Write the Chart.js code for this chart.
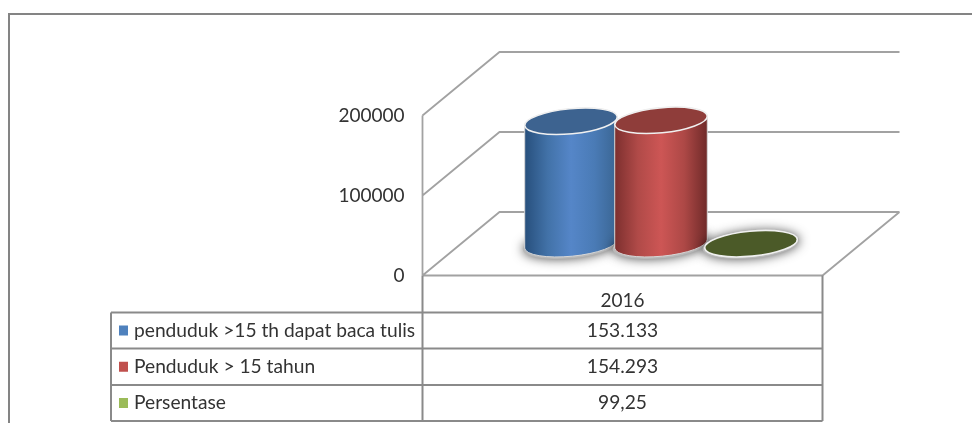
<!DOCTYPE html>
<html>
<head>
<meta charset="utf-8">
<style>
  html, body { margin: 0; padding: 0; background: #fff; }
  #wrap { width: 972px; height: 423px; }
</style>
</head>
<body>
<div id="wrap"><canvas id="myChart" width="972" height="423"></canvas></div>
<script src="https://cdn.jsdelivr.net/npm/chart.js@4/dist/chart.umd.min.js"></script>
<script>
const categories = ["2016"];
const seriesNames = ["penduduk >15 th dapat baca tulis", "Penduduk > 15 tahun", "Persentase"];
const literate = [153133];
const population = [154293];
const percentage = [99.25];
const tableValues = ["153.133", "154.293", "99,25"];
const legendColors = ["#4f81bd", "#c0504d", "#9bbb59"];

const fontName = "Lato, sans-serif";
const textColor = "#333333";
const lineColor = "#a2a2a2";
const tableColor = "#8a8a8a";

// floor depth of the fake 3d box, bars stand half way in
const depthX = 77;
const depthY = -63.5;
const rowLines = [312.5, 348.5, 385, 421];
const tableLeft = 111;

// side gradient stops and top colour for each cylinder
const cylinders = [
  { side: ["#274f7c", "#4272a8", "#5586c8", "#4a7bb6", "#3a6592"], top: "#3d6390" },
  { side: ["#7c2f2e", "#b04a48", "#cd5655", "#ad4846", "#6f2a29"], top: "#8f3d3a" },
  { side: ["#4b5a28", "#4b5a28", "#4b5a28", "#4b5a28", "#4b5a28"], top: "#4b5a28" },
];

function drawCylinder(ctx, bar, look) {
  const rx = bar.width / 2 + 1.5;
  const ry = 12.5;
  const rot = -5.5 * Math.PI / 180;
  const cx = bar.x + depthX / 2;
  const topY = bar.y + depthY / 2;
  const baseY = bar.base + depthY / 2;

  // soft shadow on the floor
  ctx.save();
  ctx.shadowColor = "rgba(0,0,0,0.7)";
  ctx.shadowBlur = 11;
  ctx.fillStyle = "#b8b8b8";
  ctx.beginPath();
  ctx.ellipse(cx, baseY + 1, rx + 2, ry + 1, rot, 0, Math.PI * 2);
  ctx.fill();
  ctx.restore();

  const grad = ctx.createLinearGradient(cx - rx, 0, cx + rx, 0);
  look.side.forEach((c, i) => grad.addColorStop(i / (look.side.length - 1), c));
  ctx.beginPath();
  ctx.ellipse(cx, baseY, rx, ry, rot, 0, Math.PI);
  ctx.ellipse(cx, topY, rx, ry, rot, Math.PI, Math.PI * 2);
  ctx.closePath();
  ctx.fillStyle = grad;
  ctx.fill();
  ctx.strokeStyle = "#d8d8d8";
  ctx.lineWidth = 1;
  ctx.stroke();

  ctx.beginPath();
  ctx.ellipse(cx, topY, rx, ry, rot, 0, Math.PI * 2);
  ctx.fillStyle = look.top;
  ctx.fill();
  ctx.strokeStyle = "#f0f0f0";
  ctx.lineWidth = 1.6;
  ctx.stroke();
}

const cylinderPlugin = {
  id: "cylinders",
  beforeDatasetsDraw(chart) {
    const ctx = chart.ctx;
    const y = chart.scales.y;
    const { left, right, bottom } = chart.chartArea;
    ctx.save();

    // page frame
    ctx.strokeStyle = "#848484";
    ctx.lineWidth = 2;
    ctx.beginPath();
    ctx.moveTo(9, 423);
    ctx.lineTo(9, 14);
    ctx.lineTo(972, 14);
    ctx.stroke();

    // walls and floor
    ctx.strokeStyle = lineColor;
    ctx.lineWidth = 1.8;
    ctx.beginPath();
    y.ticks.forEach((t) => {
      const py = y.getPixelForValue(t.value);
      ctx.moveTo(left, py);
      ctx.lineTo(left + depthX, py + depthY);
      ctx.lineTo(right + depthX, py + depthY);
    });
    ctx.moveTo(right + depthX, bottom + depthY);
    ctx.lineTo(right, bottom);
    ctx.lineTo(left, bottom);
    ctx.moveTo(left, y.getPixelForValue(200000));
    ctx.lineTo(left, bottom);
    ctx.stroke();
    ctx.restore();
  },
  afterDatasetsDraw(chart) {
    const ctx = chart.ctx;
    ctx.save();
    chart.data.datasets.forEach((ds, i) => {
      chart.getDatasetMeta(i).data.forEach((bar) => {
        drawCylinder(ctx, bar.getProps(["x", "y", "base", "width"], true), cylinders[i]);
      });
    });
    ctx.restore();
  },
  afterDraw(chart) {
    const ctx = chart.ctx;
    const { left, right, bottom } = chart.chartArea;
    ctx.save();

    // data table under the plot
    ctx.strokeStyle = tableColor;
    ctx.lineWidth = 2;
    ctx.beginPath();
    rowLines.forEach((ly) => {
      ctx.moveTo(tableLeft, ly);
      ctx.lineTo(right, ly);
    });
    ctx.moveTo(tableLeft, rowLines[0]);
    ctx.lineTo(tableLeft, rowLines[3]);
    ctx.moveTo(left, bottom);
    ctx.lineTo(left, rowLines[3]);
    ctx.moveTo(right, bottom);
    ctx.lineTo(right, rowLines[3]);
    ctx.stroke();

    ctx.font = "19.2px " + fontName;
    ctx.textBaseline = "middle";
    seriesNames.forEach((name, i) => {
      const midY = (rowLines[i] + rowLines[i + 1]) / 2;
      ctx.fillStyle = legendColors[i];
      ctx.fillRect(119, midY - 5, 9, 10);
      ctx.fillStyle = textColor;
      ctx.textAlign = "left";
      ctx.fillText(name, 134, midY);
      ctx.textAlign = "center";
      ctx.fillText(tableValues[i], (left + right) / 2, midY);
    });
    ctx.restore();
  },
};

new Chart("myChart", {
  type: "bar",
  data: {
    labels: categories,
    datasets: [
      { label: seriesNames[0], data: literate, backgroundColor: "transparent" },
      { label: seriesNames[1], data: population, backgroundColor: "transparent" },
      { label: seriesNames[2], data: percentage, backgroundColor: "transparent" },
    ],
  },
  options: {
    responsive: false,
    animation: false,
    layout: { padding: { left: 302.5, right: 149.5, top: 115.5, bottom: 0 } },
    datasets: { bar: { categoryPercentage: 0.675, barPercentage: 1 } },
    plugins: { legend: { display: false }, title: { display: false }, tooltip: { enabled: false } },
    scales: {
      x: {
        grid: { display: false, drawTicks: false },
        border: { display: false },
        ticks: { color: textColor, font: { family: fontName, size: 19 }, padding: 14 },
        afterFit: (s) => { s.height = 147.5; },
      },
      y: {
        min: 0,
        max: 200000,
        grid: { display: false, drawTicks: false },
        border: { display: false },
        ticks: {
          stepSize: 100000,
          color: textColor,
          font: { family: fontName, size: 19 },
          padding: 18,
          callback: (v) => String(v),
        },
        afterFit: (s) => { s.width = 120; },
      },
    },
  },
  plugins: [cylinderPlugin],
});
</script>
</body>
</html>
